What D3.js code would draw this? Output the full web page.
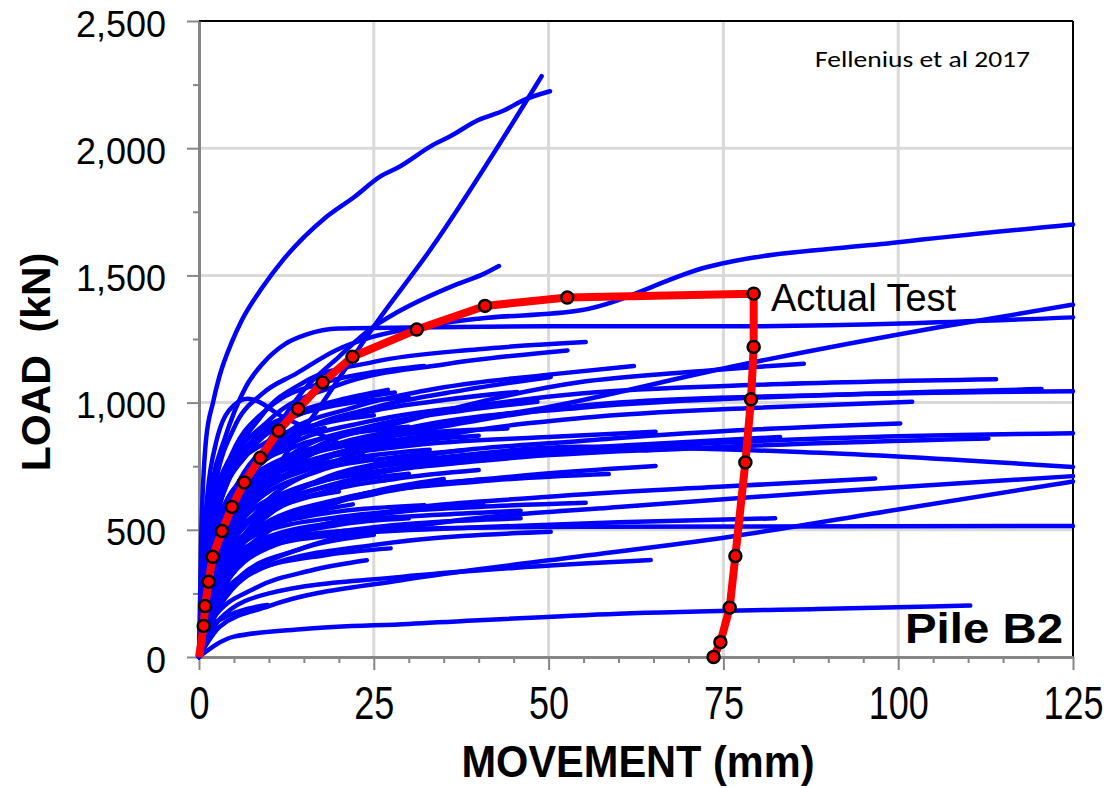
<!DOCTYPE html>
<html><head><meta charset="utf-8">
<script src="https://cdn.jsdelivr.net/npm/d3@7"></script>
<style>
html,body{margin:0;padding:0;background:#fff;}
svg{display:block;font-family:"Liberation Sans",Arial,sans-serif;}
</style></head>
<body><svg id="chart" width="1107" height="788"></svg>
<script>
// ---- data (movement mm, load kN) ----
const xTicks = [0, 25, 50, 75, 100, 125];
const yTicks = [0, 500, 1000, 1500, 2000, 2500];
const xMinorTicks = [5,10,15,20,30,35,40,45,55,60,65,70,80,85,90,95,105,110,115,120];
const yMinorTicks = [250, 750, 1250, 1750, 2250];

// upper curves
const curvesHigh = [
  [[0,0],[0.3,450],[1,852],[2,1000],[2.9,1101],[4.8,1245],[6,1317],[9.1,1454],[12,1560],[17.9,1723],[22.2,1808],[26,1890],[28.4,1923],[33.6,2015],[36,2048],[39.8,2109],[43.6,2148],[46.5,2190],[50.2,2224]],
  [[0,0],[2,250],[6,520],[12,780],[17.7,1000],[25.3,1311],[32.9,1594],[49,2283]],
  [[0,0],[1.5,300],[5,600],[10,850],[15,1050],[20,1180],[24.6,1291],[28.4,1356],[36.5,1461],[40.8,1507],[42.9,1537]],
  [[0,0],[0.8,450],[2,700],[3.6,852],[6.7,1062],[9.1,1153],[12.4,1232],[15.3,1267],[20,1291],[30,1295],[50,1300],[76,1300],[125,1335]],
  [[0,0],[0.8,400],[2.5,700],[5,900],[9.1,1036],[13.9,1114],[19.6,1206],[24.8,1258],[32,1300],[40,1330],[54.6,1363],[72.7,1533],[100,1630],[125,1700]],
  [[0,0],[1.5,350],[5,600],[12,760],[20,830],[29,891],[50,983],[76,1140],[106,1297],[125,1385]],
  [[0,0],[0.8,500],[2.5,850],[5,990],[7,1015],[12,944],[20,840],[26.5,754]],
  [[0,0],[1,350],[4,700],[9,950],[15,1080],[25,1160],[40,1210],[55.3,1238]],
  [[0,0],[1.2,400],[4,720],[10,930],[20,1070],[35,1150],[52.7,1205]]
];
// middle curves
const curvesMid = [
  [[0,0],[1,400],[4,750],[10,980],[18,1080],[25,1120],[32.2,1144]],
  [[0,0],[1.5,350],[5,650],[12,870],[22,980],[35,1060],[50,1110],[62.2,1144]],
  [[0,0],[2,350],[6,650],[14,870],[25,980],[38,1050],[50.3,1101]],
  [[0,0],[2,300],[6,580],[15,800],[30,930],[54.6,1081],[70,1120],[86.5,1153]],
  [[0,0],[1.5,300],[5,600],[12,820],[25,930],[40,990],[54.6,1036],[80,1070],[114,1092]],
  [[0,0],[2,300],[7,600],[15,780],[30,900],[54.6,980],[90,1030],[120.5,1053]],
  [[0,0],[2,350],[8,620],[20,800],[40,930],[60,1000],[90,1030],[125,1045]],
  [[0,0],[2,280],[8,560],[18,750],[35,870],[55,940],[80,980],[102,1003]],
  [[0,0],[1.5,350],[5,650],[12,850],[22,950],[35,1010],[45.5,1042]],
  [[0,0],[2,320],[6,600],[14,810],[25,910],[38,970],[48.4,1003]],
  [[0,0],[2,260],[7,500],[16,680],[30,780],[55,850],[80,895],[100.3,918]],
  [[0,0],[3,300],[10,560],[22,700],[40,770],[70,820],[112.9,859]],
  [[0,0],[3,380],[10,620],[30,750],[60,820],[90,860],[125,880]],
  [[0,0],[2,300],[8,560],[18,700],[35,780],[60,830],[83.1,865]],
  [[0,0],[1.5,330],[6,620],[15,760],[30,830],[50,865],[65.3,885]],
  [[0,0],[1.5,350],[5,620],[12,780],[25,860],[44.1,898]],
  [[0,0],[2,380],[6,640],[15,790],[27,850],[37,872]],
  [[0,0],[2,320],[7,580],[17,730],[28,785],[37.9,813]],
  [[0,0],[1,450],[3,700],[8,880],[18,980],[30,1020]],
  [[0,0],[1,400],[4,700],[10,850],[18,920],[25,950]],
  [[0,0],[1,350],[4,600],[9,730],[15,800]]
];
// lower curves
const curvesLow = [
  [[0,0],[2,320],[8,560],[20,710],[40,800],[54.6,826],[86,806],[125,747]],
  [[0,0],[3,300],[10,520],[25,640],[45,710],[65.3,751]],
  [[0,0],[2,280],[8,500],[20,620],[40,690],[58.6,719]],
  [[0,0],[3,250],[10,440],[25,560],[50,630],[75,670],[96.7,702]],
  [[0,0],[4,250],[15,430],[35,530],[60,590],[90,650],[125,711]],
  [[0,0],[3,120],[10,200],[28.9,302],[50,380],[76,473],[100,580],[125,690]],
  [[0,0],[2,250],[8,420],[20,480],[40,510],[60,530],[82.4,545]],
  [[0,0],[1,200],[4,380],[10,460],[25,500],[54.6,512],[125,515]],
  [[0,0],[2,300],[8,480],[20,550],[40,590],[55.3,606]],
  [[0,0],[2,250],[8,450],[20,530],[35,560],[46,575]],
  [[0,0],[3,250],[10,430],[22,500],[46,545]],
  [[0,0],[3,200],[10,360],[25,440],[50.3,492]],
  [[0,0],[1.5,280],[6,470],[15,550],[32.2,597]],
  [[0,0],[2,260],[8,430],[20,530],[40.7,597]],
  [[0,0],[2,200],[8,340],[18,400],[27.4,427]],
  [[0,0],[3,150],[10,250],[28.9,315],[45,350],[64.6,381]],
  [[0,0],[5,80],[15,110],[30,130],[60,170],[90,190],[110.3,202]],
  [[0,0],[1,100],[4,160],[7,190],[9.8,204]],
  [[0,0],[1,250],[4,450],[10,570],[20,650]],
  [[0,0],[2,250],[8,450],[20,610],[35,700]],
  [[0,0],[2,150],[8,270],[16,340],[24,380]]
];
// dense bundle near the origin
const curvesDense = [
  [[0,0],[1,300],[3,550],[7,720],[14,830],[22,880],[30,905]],
  [[0,0],[1.5,280],[4,500],[9,650],[16,740],[25,790]],
  [[0,0],[2,240],[5,420],[10,560],[18,650],[28,700],[40,735]],
  [[0,0],[1,330],[3,600],[7,800],[12,920],[20,1000],[28,1040]],
  [[0,0],[1.5,260],[5,470],[11,600],[20,680],[30,720]],
  [[0,0],[0.8,250],[3,480],[8,650],[15,740],[24,790],[33,815]],
  [[0,0],[2,220],[6,380],[12,470],[20,520],[30,545]],
  [[0,0],[1.2,380],[4,680],[9,870],[16,970],[24,1020]],
  [[0,0],[2.5,350],[7,590],[14,740],[24,830],[36,880]],
  [[0,0],[1,200],[3,350],[8,480],[15,560],[22,600]],
  [[0,0],[1.5,420],[4,700],[8,860],[13,950],[20,1010],[27,1050]],
  [[0,0],[3,280],[9,480],[18,600],[30,670],[42,700]],
  [[0,0],[1,280],[4,520],[10,700],[18,790],[28,840],[40,870]],
  [[0,0],[2,180],[6,320],[14,420],[25,480]],
  [[0,0],[1,300],[2.5,500],[6,700],[11,830],[18,900]]
];
// Actual Test (red)
const actualTest = [[0,0],[0.67,122],[0.86,200],[1.38,296],[1.95,394],[3.29,495],[4.71,590],[6.48,686],[8.76,783],[11.38,889],[14.19,975],[17.67,1079],[21.95,1180],[31.14,1287],[40.9,1380],[52.67,1413],[79.33,1428],[79.33,1219],[78.95,1013],[78.14,765],[76.71,397],[75.9,194],[74.57,58],[73.6,0]];

// ---- drawing ----
const svg = d3.select("#chart");
const x = d3.scaleLinear().domain([0,125]).range([199,1073]);
const y = d3.scaleLinear().domain([0,2500]).range([657,21]);

// gridlines
svg.append("g").selectAll("line").data(xTicks.filter(d=>d>0&&d<125)).join("line")
  .attr("x1",d=>x(d)).attr("x2",d=>x(d)).attr("y1",y(2500)).attr("y2",y(0))
  .attr("stroke","#d9d9d9").attr("stroke-width",3);
svg.append("g").selectAll("line").data(yTicks.filter(d=>d>0&&d<2500)).join("line")
  .attr("x1",x(0)).attr("x2",x(125)).attr("y1",d=>y(d)).attr("y2",d=>y(d))
  .attr("stroke","#d9d9d9").attr("stroke-width",3);

// top & right border
svg.append("line").attr("x1",x(0)).attr("x2",x(125)).attr("y1",y(2500)).attr("y2",y(2500)).attr("stroke","#000").attr("stroke-width",2);
svg.append("line").attr("x1",x(125)).attr("x2",x(125)).attr("y1",y(2500)).attr("y2",y(0)).attr("stroke","#000").attr("stroke-width",2);

// axes
const axisColor = "#868686";
const yAxis = svg.append("g").attr("transform",`translate(${x(0)},0)`)
  .call(d3.axisLeft(y).tickValues(yTicks).tickSize(12).tickSizeOuter(0).tickPadding(21).tickFormat(d3.format(",")));
svg.append("g").attr("transform",`translate(${x(0)},0)`)
  .call(d3.axisLeft(y).tickValues(yMinorTicks).tickSize(6).tickFormat(""))
  .call(g=>g.select(".domain").remove());
const xAxis = svg.append("g").attr("transform",`translate(0,${y(0)})`)
  .call(d3.axisBottom(x).tickValues(xTicks).tickSize(13).tickSizeOuter(0).tickFormat(d3.format("d")));
svg.append("g").attr("transform",`translate(0,${y(0)})`)
  .call(d3.axisBottom(x).tickValues(xMinorTicks).tickSize(6).tickFormat(""))
  .call(g=>g.select(".domain").remove());
svg.selectAll(".domain").attr("stroke",axisColor).attr("stroke-width",3);
svg.selectAll(".tick line").attr("stroke",axisColor).attr("stroke-width",2);
yAxis.selectAll("text").attr("font-size",36).attr("fill","#000").attr("dy",null).attr("y",15)
  .attr("font-family","Liberation Sans, Arial, sans-serif");
xAxis.selectAll("text").attr("font-size",36).attr("fill","#000").attr("dy",null).attr("y",0)
  .attr("transform","translate(0,62) scale(1,1.3)")
  .attr("font-family","Liberation Sans, Arial, sans-serif");

// blue curves
const line = d3.line().x(d=>x(d[0])).y(d=>y(d[1])).curve(d3.curveMonotoneX);
const allCurves = curvesHigh.concat(curvesMid, curvesLow, curvesDense);
svg.append("g").selectAll("path").data(allCurves).join("path")
  .attr("d",line).attr("fill","none").attr("stroke","#0000ff").attr("stroke-width",4.5)
  .attr("stroke-linecap","round").attr("stroke-linejoin","round");

// red actual test
const redLine = d3.line().x(d=>x(d[0])).y(d=>y(d[1])).curve(d3.curveLinear);
svg.append("path").datum(actualTest).attr("d",redLine).attr("fill","none")
  .attr("stroke","#ff0000").attr("stroke-width",8).attr("stroke-linejoin","round");
svg.append("g").selectAll("circle").data(actualTest.slice(1)).join("circle")
  .attr("cx",d=>x(d[0])).attr("cy",d=>y(d[1])).attr("r",6)
  .attr("fill","#ff0000").attr("stroke","#000").attr("stroke-width",2.5);

// texts
svg.append("text").attr("x",771).attr("y",311).attr("font-size",38).attr("fill","#000").text("Actual Test");
svg.append("text").attr("x",815).attr("y",67).attr("font-size",23)
  .attr("font-family","Carlito, 'Open Sans', sans-serif")
  .attr("textLength",215).attr("lengthAdjust","spacingAndGlyphs").attr("fill","#000").text("Fellenius et al 2017");
svg.append("text").attr("x",1063).attr("y",643).attr("font-size",43).attr("font-weight","bold")
  .attr("text-anchor","end").attr("textLength",158).attr("lengthAdjust","spacingAndGlyphs").attr("fill","#000").text("Pile B2");
svg.append("text").attr("transform","translate(638,777) scale(1,1.08)").attr("text-anchor","middle")
  .attr("font-size",41).attr("font-weight","bold").attr("fill","#000")
  .attr("textLength",353).attr("lengthAdjust","spacingAndGlyphs").text("MOVEMENT (mm)");
svg.append("text").attr("transform","translate(50,362) rotate(-90)").attr("text-anchor","middle")
  .attr("font-size",41).attr("font-weight","bold").attr("fill","#000")
  .style("white-space","pre").text("LOAD  (kN)");
</script></body></html>
